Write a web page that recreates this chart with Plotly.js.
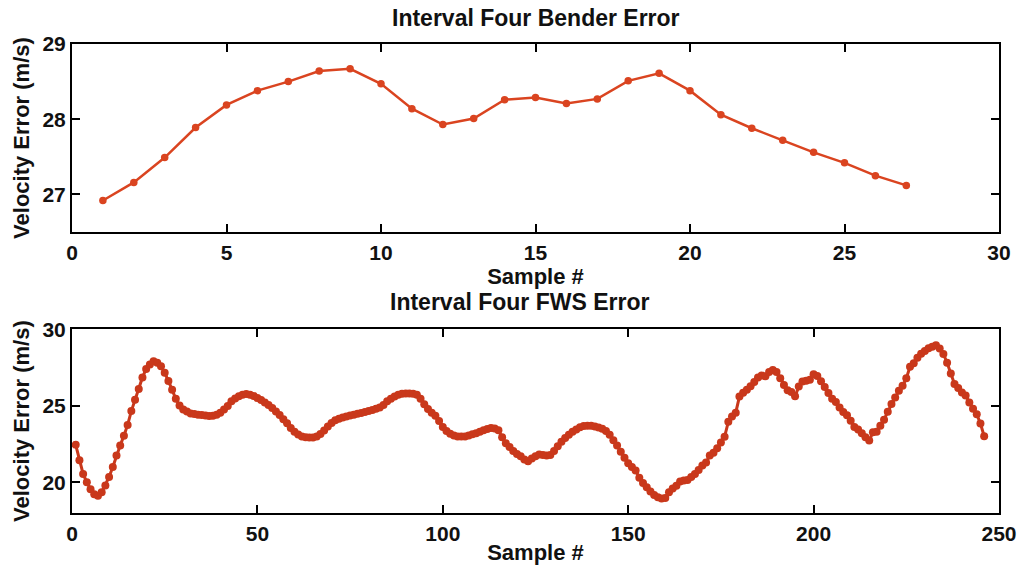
<!DOCTYPE html>
<html>
<head>
<meta charset="utf-8">
<script src="https://cdn.plot.ly/plotly-3.0.1.min.js"></script>
<style>
html,body{margin:0;padding:0;background:#fff;}
#chart{width:1021px;height:573px;}
</style>
</head>
<body>
<div id="chart"></div>
<script>
// ---- Data ----
var benderTitle = "Interval Four Bender Error";
var fwsTitle = "Interval Four FWS Error";
var xLabel = "Sample #";
var yLabel = "Velocity Error (m/s)";

var benderSamples = [1,2,3,4,5,6,7,8,9,10,11,12,13,14,15,16,17,18,19,20,21,22,23,24,25,26,27];
var benderError = [26.92,27.16,27.49,27.89,28.19,28.38,28.50,28.64,28.67,28.47,28.14,27.93,28.01,28.26,28.29,28.21,28.27,28.51,28.61,28.38,28.06,27.88,27.72,27.56,27.42,27.25,27.12];

var fwsError = [
22.45,21.45,20.55,20.00,19.55,19.22,19.12,19.35,19.80,20.35,
21.00,21.75,22.40,23.05,23.75,24.65,25.40,26.10,26.85,27.40,
27.70,27.90,27.80,27.58,27.15,26.62,26.05,25.45,25.02,24.75,
24.62,24.50,24.46,24.42,24.40,24.36,24.33,24.35,24.42,24.55,
24.75,24.98,25.30,25.48,25.62,25.72,25.76,25.72,25.64,25.50,
25.38,25.22,25.05,24.85,24.62,24.40,24.12,23.85,23.55,23.30,
23.12,23.00,22.95,22.92,22.93,23.00,23.15,23.38,23.65,23.88,
24.05,24.15,24.24,24.30,24.37,24.42,24.48,24.53,24.60,24.66,
24.72,24.80,24.88,25.05,25.30,25.45,25.60,25.72,25.78,25.80,
25.80,25.78,25.72,25.45,25.10,24.78,24.55,24.35,24.00,23.62,
23.35,23.18,23.06,23.00,22.99,23.00,23.06,23.14,23.20,23.30,
23.40,23.48,23.54,23.52,23.40,22.95,22.55,22.30,22.05,21.85,
21.70,21.50,21.38,21.55,21.70,21.82,21.78,21.75,21.78,22.05,
22.35,22.65,22.90,23.10,23.30,23.45,23.60,23.68,23.70,23.70,
23.65,23.58,23.50,23.35,23.10,22.75,22.40,22.00,21.60,21.25,
21.00,20.78,20.30,19.95,19.68,19.40,19.18,19.02,18.95,18.98,
19.35,19.60,19.78,20.05,20.12,20.15,20.35,20.55,20.80,21.10,
21.30,21.75,21.93,22.22,22.60,22.98,23.95,24.30,24.55,25.60,
25.85,26.05,26.28,26.55,26.85,26.98,26.92,27.20,27.34,27.20,
26.80,26.35,26.02,25.90,25.62,26.25,26.58,26.64,26.70,27.05,
26.95,26.60,26.22,25.83,25.45,25.24,24.88,24.60,24.38,24.02,
23.62,23.45,23.20,22.95,22.73,23.27,23.31,23.70,24.09,24.61,
25.11,25.54,25.98,26.30,26.79,27.55,27.77,28.13,28.39,28.58,
28.75,28.85,28.95,28.74,28.38,27.81,27.10,26.42,26.16,25.87,
25.67,25.22,24.81,24.44,23.84,23.01
];
var fwsSamples = fwsError.map(function(v, i){ return i + 1; });

var benderXTicks = [0,5,10,15,20,25,30];
var benderYTicks = [27,28,29];
var fwsXTicks = [0,50,100,150,200,250];
var fwsYTicks = [20,25,30];

// ---- Style ----
var FONT = "Liberation Sans, Arial, Helvetica, sans-serif";
var tickFont = {family: FONT, size: 21, color: "#111", weight: "bold"};
var titleFont = {family: FONT, size: 22, color: "#111", weight: "bold"};
var headFont = {family: FONT, size: 23, color: "#111", weight: "bold"};

function axisBase(extra){
  var a = {
    showline: true, linecolor: "#000", linewidth: 2, mirror: "ticks",
    ticks: "inside", ticklen: 8, tickwidth: 2, tickcolor: "#000",
    showgrid: false, zeroline: false, tickfont: tickFont,
    fixedrange: true
  };
  for (var k in extra) a[k] = extra[k];
  return a;
}

var traces = [
  {
    x: benderSamples, y: benderError, xaxis: "x", yaxis: "y",
    type: "scatter", mode: "lines+markers",
    line: {color: "#da4420", width: 2.5},
    marker: {color: "#da4420", size: 7.5},
    hoverinfo: "skip", showlegend: false
  },
  {
    x: fwsSamples, y: fwsError, xaxis: "x2", yaxis: "y2",
    type: "scatter", mode: "lines+markers",
    line: {color: "#c9381b", width: 3},
    marker: {color: "#c9381b", size: 8},
    hoverinfo: "skip", showlegend: false
  }
];

var layout = {
  width: 1021, height: 573,
  margin: {l: 72, r: 22, t: 44, b: 60},
  paper_bgcolor: "#fff", plot_bgcolor: "#fff",
  font: {family: FONT, size: 21, color: "#111"},
  showlegend: false,
  xaxis: axisBase({
    domain: [0, 1], anchor: "y", range: [0, 30], tickvals: benderXTicks,
    ticklabelstandoff: 1,
    title: {text: xLabel, font: titleFont, standoff: 0}
  }),
  yaxis: axisBase({
    domain: [0.599, 1], anchor: "x", range: [26.5, 29], tickvals: benderYTicks,
    title: {text: yLabel, font: titleFont, standoff: 7}
  }),
  xaxis2: axisBase({
    domain: [0, 1], anchor: "y2", range: [0, 250], tickvals: fwsXTicks,
    ticklabelstandoff: 1,
    title: {text: xLabel, font: titleFont, standoff: 0}
  }),
  yaxis2: axisBase({
    domain: [0, 0.392], anchor: "x2", range: [18, 30], tickvals: fwsYTicks,
    title: {text: yLabel, font: titleFont, standoff: 7}
  }),
  annotations: [
    {text: benderTitle, xref: "paper", yref: "paper", x: 0.5, y: 1.055,
     xanchor: "center", yanchor: "middle", showarrow: false, font: headFont},
    {text: fwsTitle, xref: "paper", yref: "paper", x: 0.483, y: 0.45,
     xanchor: "center", yanchor: "middle", showarrow: false, font: headFont}
  ]
};

Plotly.newPlot("chart", traces, layout, {staticPlot: true, displayModeBar: false});
</script>
</body>
</html>
